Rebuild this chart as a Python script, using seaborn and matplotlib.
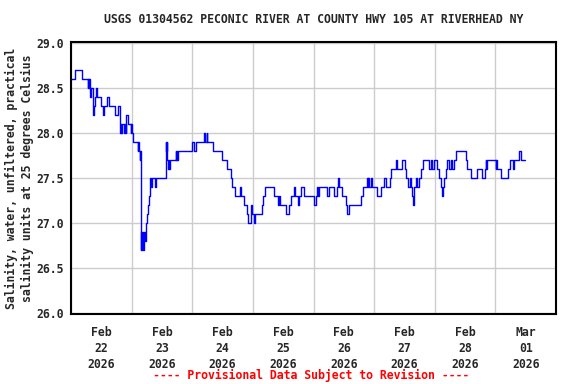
import numpy as np
import pandas as pd
import matplotlib
matplotlib.use("Agg")
import matplotlib.pyplot as plt
import matplotlib.dates as mdates
import seaborn as sns

# step change points: hours since 2026-02-22 00:00, salinity (PSU)
hours = [0.0, 1.5, 4.5, 6.7, 6.9, 7.1, 7.3, 7.5, 7.8, 8.7, 8.8, 9.0, 9.6, 10.0, 10.4,
         11.7, 12.6, 13.0, 14.1, 15.0, 17.4, 18.6, 19.4, 19.6, 19.8, 20.0, 21.0, 21.3,
         21.6, 21.9, 22.5, 23.6, 23.9, 24.2, 24.7, 26.5, 26.7, 26.9, 27.2, 27.4, 27.6,
         27.8, 28.0, 28.2, 28.4, 28.6, 28.8, 29.0, 29.2, 29.5, 29.7, 30.2, 30.6, 30.9,
         31.1, 31.3, 31.8, 32.2, 33.1, 33.6, 37.5, 37.7, 37.9, 38.1, 38.5, 38.7, 38.9,
         39.2, 41.4, 41.6, 41.8, 42.0, 42.2, 48.0, 48.7, 49.3, 52.6, 52.9, 53.7, 54.0,
         56.2, 59.6, 61.9, 63.2, 63.9, 65.0, 66.8, 67.2, 68.5, 69.8, 70.2, 71.4, 71.7,
         72.4, 72.7, 75.8, 76.2, 76.8, 80.4, 82.1, 82.3, 82.6, 85.0, 86.3, 87.0, 88.3,
         88.7, 90.0, 90.3, 90.9, 92.2, 96.0, 96.9, 97.5, 97.8, 98.2, 101.5, 102.1,
         104.2, 105.2, 105.7, 106.1, 107.4, 108.7, 109.4, 110.1, 114.7, 115.6, 117.1,
         117.4, 117.7, 118.0, 118.6, 119.3, 121.0, 122.6, 123.9, 124.6, 126.3, 126.8,
         128.5, 129.2, 131.2, 132.1, 132.5, 133.4, 134.1, 134.5, 134.9, 135.5, 135.7,
         135.8, 136.5, 137.1, 137.8, 138.7, 139.5, 141.7, 142.4, 143.1, 143.7, 144.8,
         145.7, 146.4, 147.0, 147.3, 147.7, 148.3, 149.0, 149.6, 150.3, 151.0, 151.6,
         152.3, 156.3, 156.9, 158.2, 160.9, 162.9, 163.8, 164.2, 164.4, 164.6, 168.1,
         168.3, 168.6, 170.4, 172.8, 173.8, 174.8, 175.4, 177.4, 178.3, 179.7]
salinity = [28.6, 28.7, 28.6, 28.5, 28.6, 28.5, 28.6, 28.4, 28.5, 28.4, 28.2, 28.3, 28.4, 28.5, 28.4,
            28.3, 28.2, 28.3, 28.4, 28.3, 28.2, 28.3, 28.0, 28.1, 28.0, 28.1, 28.0, 28.1,
            28.0, 28.2, 28.1, 28.0, 28.1, 28.0, 27.9, 27.8, 27.9, 27.8, 27.7, 27.8, 26.7,
            26.9, 26.7, 26.8, 26.9, 26.7, 26.8, 26.9, 26.8, 26.9, 27.0, 27.1, 27.2, 27.3,
            27.4, 27.5, 27.4, 27.5, 27.4, 27.5, 27.9, 27.8, 27.9, 27.7, 27.6, 27.7, 27.6,
            27.7, 27.8, 27.7, 27.8, 27.7, 27.8, 27.9, 27.8, 27.9, 28.0, 27.9, 28.0, 27.9,
            27.8, 27.7, 27.6, 27.5, 27.4, 27.3, 27.4, 27.3, 27.2, 27.1, 27.0, 27.2, 27.1,
            27.0, 27.1, 27.2, 27.3, 27.4, 27.3, 27.2, 27.3, 27.2, 27.1, 27.2, 27.3, 27.4,
            27.3, 27.2, 27.3, 27.4, 27.3, 27.2, 27.3, 27.4, 27.3, 27.4, 27.3, 27.4,
            27.3, 27.4, 27.5, 27.4, 27.3, 27.2, 27.1, 27.2, 27.3, 27.4, 27.5,
            27.4, 27.5, 27.4, 27.5, 27.4, 27.3, 27.4, 27.5, 27.4, 27.5, 27.6,
            27.7, 27.6, 27.7, 27.6, 27.5, 27.4, 27.5, 27.4, 27.3, 27.2, 27.3,
            27.4, 27.5, 27.4, 27.5, 27.6, 27.7, 27.6, 27.7, 27.6, 27.7, 27.6,
            27.5, 27.4, 27.3, 27.4, 27.5, 27.6, 27.7, 27.6, 27.7, 27.6, 27.7,
            27.8, 27.7, 27.6, 27.5, 27.6, 27.5, 27.6, 27.7, 27.6, 27.7, 27.6,
            27.7, 27.6, 27.5, 27.6, 27.7, 27.6, 27.7, 27.8, 27.7, 27.7]

title = "USGS 01304562 PECONIC RIVER AT COUNTY HWY 105 AT RIVERHEAD NY"
ylabel = "Salinity, water, unfiltered, practical\nsalinity units at 25 degrees Celsius"
footer = "---- Provisional Data Subject to Revision ----"

start = pd.Timestamp("2026-02-22 00:00")
df = pd.DataFrame({"time": start + pd.to_timedelta(hours, unit="h"), "salinity": salinity})

sns.set_style("white")
plt.rcParams["font.family"] = ["DejaVu Sans Mono"]
plt.rcParams["font.weight"] = "bold"
fs = 8.3

fig = plt.figure(figsize=(5.76, 3.84), dpi=100)
ax = fig.add_axes([71 / 576, 1 - 314 / 384, 485 / 576, 272 / 384])

sns.lineplot(data=df, x="time", y="salinity", ax=ax, color="#0000ff", linewidth=1,
             drawstyle="steps-post", estimator=None)

ax.set_xlim(start, pd.Timestamp("2026-03-02 00:00"))
ax.set_ylim(25.985, 29.01)
ax.set_yticks(np.arange(26.0, 29.01, 0.5))
ax.set_yticklabels([f"{v:.1f}" for v in np.arange(26.0, 29.01, 0.5)], fontsize=fs, fontweight="bold")

ax.xaxis.set_major_locator(mdates.HourLocator(byhour=[12]))
ax.xaxis.set_major_formatter(mdates.DateFormatter("%b\n%d\n%Y"))
ax.xaxis.set_minor_locator(mdates.HourLocator(byhour=[0]))
for lbl in ax.get_xticklabels():
    lbl.set_fontsize(fs)
    lbl.set_fontweight("bold")
    lbl.set_linespacing(1.3)

ax.grid(False)
ax.grid(True, which="minor", axis="x", color="#cccccc", linewidth=1)
ax.grid(True, which="major", axis="y", color="#cccccc", linewidth=1)
ax.tick_params(axis="x", which="both", length=0, pad=9)
ax.tick_params(axis="y", length=0, pad=5)
ax.set_xlabel("")
ax.set_ylabel("")
for s in ax.spines.values():
    s.set_color("black")
    s.set_linewidth(1.5)

fig.text(0.544, 0.948, title, ha="center", va="center", fontsize=fs, fontweight="bold")
fig.text(0.034, 0.536, ylabel, ha="center", va="center", rotation=90, fontsize=fs,
         fontweight="bold", linespacing=1.3)
fig.text(0.54, 0.023, footer, ha="center", va="center", fontsize=fs, fontweight="bold", color="red")

fig.savefig("out.png", dpi=100)
